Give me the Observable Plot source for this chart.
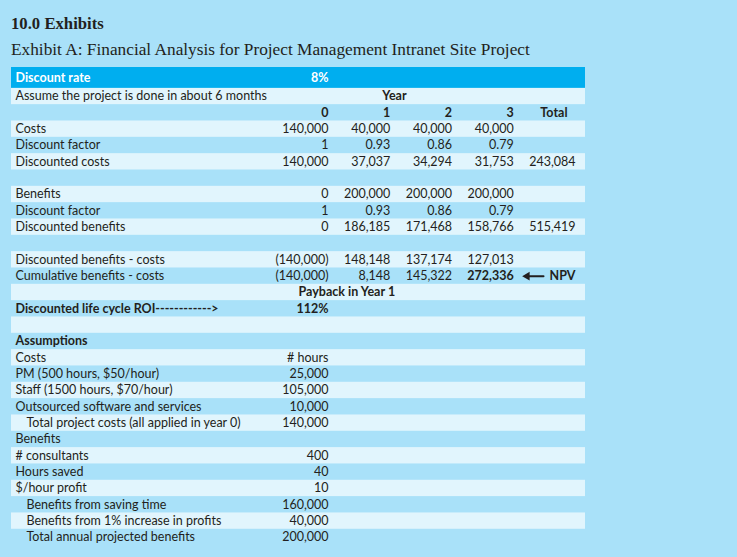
<!DOCTYPE html>
<html><head><meta charset="utf-8">
<script src="https://cdn.jsdelivr.net/npm/d3@7"></script>
<script src="https://cdn.jsdelivr.net/npm/@observablehq/plot@0.6"></script>
<style>
html,body{margin:0;padding:0;background:#a9e1f9;width:737px;height:557px;overflow:hidden}
#t1{position:absolute;left:11px;top:15px;font:bold 16.7px "Liberation Serif",serif;color:#231f20;line-height:18px;white-space:nowrap}
#t2{position:absolute;left:11px;top:40px;font:17.3px "Liberation Serif",serif;color:#231f20;line-height:20px;white-space:nowrap}
#chart{position:absolute;left:0;top:62px}
</style></head><body>
<div id="t1">10.0 Exhibits</div>
<div id="t2">Exhibit A: Financial Analysis for Project Management Intranet Site Project</div>
<div id="chart"></div>
<script>
// ---- data ----
const discountRate = 0.08;
const years = ["0", "1", "2", "3"];
const costs = [140000, 40000, 40000, 40000];
const discountFactors = [1, 0.93, 0.86, 0.79];
const discountedCosts = [140000, 37037, 34294, 31753];
const totalDiscountedCosts = 243084;
const benefits = [0, 200000, 200000, 200000];
const discountedBenefits = [0, 186185, 171468, 158766];
const totalDiscountedBenefits = 515419;
const netBenefits = [-140000, 148148, 137174, 127013];
const cumulativeBenefits = [-140000, 8148, 145322, 272336];
const paybackYear = 1;
const lifeCycleROI = 1.12;
const costAssumptionLabels = ["PM (500 hours, $50/hour)", "Staff (1500 hours, $70/hour)", "Outsourced software and services"];
const costAssumptionValues = [25000, 105000, 10000];
const totalProjectCosts = 140000;
const benefitAssumptionLabels = ["# consultants", "Hours saved", "$/hour profit"];
const benefitAssumptionValues = [400, 40, 10];
const benefitResultLabels = ["Benefits from saving time", "Benefits from 1% increase in profits", "Total annual projected benefits"];
const benefitResultValues = [160000, 40000, 200000];

// ---- build table ----
const num = d3.format(",");
const fmt = v => v < 0 ? `(${num(-v)})` : num(v);
const fmtDF = v => v === 1 ? "1" : v.toFixed(2);
const pct = d3.format(".0%");

const rows = [];
const cells = [];
function addRow(label, opts = {}) {
  const id = rows.length;
  rows.push({id, label, bold: !!opts.bold, indent: !!opts.indent, header: !!opts.header});
  return id;
}
function addCells(row, values, f, opts = {}) {
  values.forEach((v, i) => cells.push({row, col: years[i], text: f(v), bold: !!opts.bold}));
}
let r;
r = addRow("Discount rate", {bold: true, header: true});
cells.push({row: r, col: "0", text: pct(discountRate), bold: true, header: true});
const yearRow = addRow("Assume the project is done in about 6 months");
const yearNumRow = addRow("");
years.forEach(y => cells.push({row: yearNumRow, col: y, text: y, bold: true}));
r = addRow("Costs"); addCells(r, costs, fmt);
r = addRow("Discount factor"); addCells(r, discountFactors, fmtDF);
r = addRow("Discounted costs"); addCells(r, discountedCosts, fmt);
cells.push({row: r, col: "Total", text: fmt(totalDiscountedCosts)});
addRow("");
r = addRow("Benefits"); addCells(r, benefits, fmt);
r = addRow("Discount factor"); addCells(r, discountFactors, fmtDF);
r = addRow("Discounted benefits"); addCells(r, discountedBenefits, fmt);
cells.push({row: r, col: "Total", text: fmt(totalDiscountedBenefits)});
addRow("");
r = addRow("Discounted benefits - costs"); addCells(r, netBenefits, fmt);
const npvRow = addRow("Cumulative benefits - costs");
cumulativeBenefits.forEach((v, i) => cells.push({row: npvRow, col: years[i], text: fmt(v), bold: i === years.length - 1}));
cells.push({row: npvRow, col: "Total", text: "NPV", bold: true});
const paybackRow = addRow("");
r = addRow("Discounted life cycle ROI------------>", {bold: true});
cells.push({row: r, col: "0", text: pct(lifeCycleROI), bold: true});
addRow("");
addRow("Assumptions", {bold: true});
r = addRow("Costs"); cells.push({row: r, col: "0", text: "# hours"});
costAssumptionLabels.forEach((l, i) => { const k = addRow(l); cells.push({row: k, col: "0", text: fmt(costAssumptionValues[i])}); });
r = addRow("Total project costs (all applied in year 0)", {indent: true});
cells.push({row: r, col: "0", text: fmt(totalProjectCosts)});
addRow("Benefits");
benefitAssumptionLabels.forEach((l, i) => { const k = addRow(l); cells.push({row: k, col: "0", text: fmt(benefitAssumptionValues[i])}); });
benefitResultLabels.forEach((l, i) => { const k = addRow(l, {indent: true}); cells.push({row: k, col: "0", text: fmt(benefitResultValues[i])}); });

const headers = [{row: yearRow, col: "1", text: "Year"}, {row: yearNumRow, col: "Total", text: "Total"}];
const payback = [{row: paybackRow, col: "0", text: `Payback in Year ${paybackYear}`}];
const npvArrow = [{row: npvRow, from: "Total", to: "3"}];

// ---- styles ----
const INK = "#231f20";
const FONT = 12.5;
const fillOf = d => d.header ? "white" : INK;

const chart = Plot.plot({
  width: 737,
  height: 495,
  marginLeft: 11,
  marginRight: 152,
  marginTop: 9.5,
  marginBottom: 11.9,
  style: {fontFamily: "Lato, sans-serif", fontSize: FONT + "px", background: "transparent", color: INK},
  x: {type: "point", domain: [...years, "Total"], range: [328, 575], padding: 0, round: false, axis: null},
  y: {type: "band", domain: rows.map(d => d.id), range: [9.5, 483.1], padding: 0, round: false, axis: null},
  marks: [
    Plot.cell(rows.filter(d => d.id % 2 === 1), {y: "id", fill: "#e1f5fd"}),
    Plot.cell(rows.filter(d => d.header), {y: "id", fill: "#00aeef", insetTop: -4.5}),
    // labels
    Plot.text(rows.filter(d => !d.indent && !d.bold), {y: "id", text: "label", frameAnchor: "left", textAnchor: "start", dx: 4, fill: fillOf, fontSize: FONT}),
    Plot.text(rows.filter(d => d.bold && !d.header), {y: "id", text: "label", frameAnchor: "left", textAnchor: "start", dx: 4, fill: fillOf, fontSize: FONT, fontWeight: "bold"}),
    Plot.text(rows.filter(d => d.header), {y: "id", text: "label", frameAnchor: "left", textAnchor: "start", dx: 4, dy: -2.5, fill: "white", fontSize: FONT, fontWeight: "bold"}),
    Plot.text(rows.filter(d => d.indent), {y: "id", text: "label", frameAnchor: "left", textAnchor: "start", dx: 15, fill: INK, fontSize: FONT}),
    // values
    Plot.text(cells.filter(d => !d.bold), {x: "col", y: "row", text: "text", textAnchor: "end", fill: INK, fontSize: FONT}),
    Plot.text(cells.filter(d => d.bold && !d.header), {x: "col", y: "row", text: "text", textAnchor: "end", fill: INK, fontSize: FONT, fontWeight: "bold"}),
    Plot.text(cells.filter(d => d.header), {x: "col", y: "row", text: "text", textAnchor: "end", dy: -2.5, fill: "white", fontSize: FONT, fontWeight: "bold"}),
    // headers
    Plot.text(headers.slice(0, 1), {x: "col", y: "row", text: "text", textAnchor: "start", dx: -8, fill: INK, fontSize: FONT, fontWeight: "bold"}),
    Plot.text(headers.slice(1), {x: "col", y: "row", text: "text", textAnchor: "end", dx: -8, fill: INK, fontSize: FONT, fontWeight: "bold"}),
    Plot.text(payback, {x: "col", y: "row", text: "text", textAnchor: "start", dx: -30, fill: INK, fontSize: FONT, fontWeight: "bold"}),
    // NPV arrow
    Plot.arrow(npvArrow, {x1: "from", x2: "to", y1: "row", y2: "row", insetStart: 32, insetEnd: 13, headLength: 0, stroke: INK, strokeWidth: 2}),
    Plot.dot(npvArrow, {x: "to", y: "row", symbol: "triangle", rotate: -90, r: 3.2, dx: 13.4, fill: INK, stroke: "none"})
  ]
});
document.getElementById("chart").appendChild(chart);
</script>
</body></html>
